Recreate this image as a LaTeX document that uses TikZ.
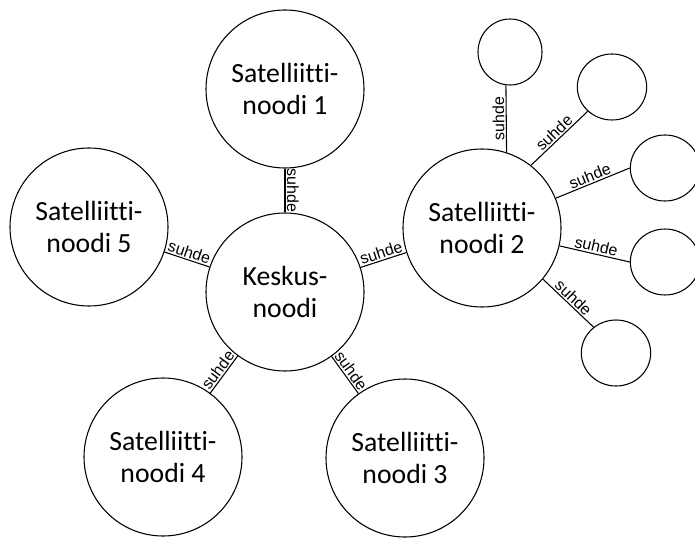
\documentclass[tikz,border=0pt]{standalone}
\usepackage{fontspec}
\setmainfont{Carlito}[Ligatures=NoCommon]
\newfontfamily\arialfont{Liberation Sans}
\usetikzlibrary{shapes.geometric}

\begin{document}
\begin{tikzpicture}[x=0.75pt, y=-0.75pt, line width=0.8pt,
    big/.style={draw,circle,inner sep=0pt,minimum size=118.5pt,align=center,font=\fontsize{20.8}{24.5}\selectfont},
    small/.style={draw,ellipse,inner sep=0pt,minimum width=52pt,minimum height=49.5pt},
    rel/.style={sloped,allow upside down,above,inner sep=1pt,font=\arialfont\fontsize{12}{14}\selectfont}]
              \useasboundingbox (0,0) rectangle (695,538);
              \clip (0,0) rectangle (695,538);
              \node[big] (k) at (285,292) {Keskus-\\noodi};
              \node[big] (s1) at (285,89) {Satelliitti-\\noodi 1};
              \node[big] (s2) at (482,228) {Satelliitti-\\noodi 2};
              \node[big] (s3) at (405,458) {Satelliitti-\\noodi 3};
              \node[big] (s4) at (163,457) {Satelliitti-\\noodi 4};
              \node[big] (s5) at (89,227) {Satelliitti-\\noodi 5};

              \node[small,minimum width=48pt] (a) at (510,52) {};
              \node[small] (b) at (612,87) {};
              \node[small] (c) at (665,168) {};
              \node[small] (d) at (665,262) {};
              \node[small] (e) at (616,353) {};

              \draw (s1) -- node[rel] {suhde} (k);
              \draw (k) -- node[rel] {suhde} (s2);
              \draw (k) -- node[rel] {suhde} (s3);
              \draw (s4) -- node[rel] {suhde} (k);
              \draw (s5) -- node[rel] {suhde} (k);

              \draw (s2.72) -- node[rel] {suhde} (a.263);
              \draw (s2.52) -- node[rel] {suhde} (b.225);
              \draw (s2.22) -- node[rel] {suhde} (c.180);
              \draw (s2.-13) -- node[rel] {suhde} (d.180);
              \draw (s2.-40) -- node[rel] {suhde} (e.131);
            \end{tikzpicture}
\end{document}
